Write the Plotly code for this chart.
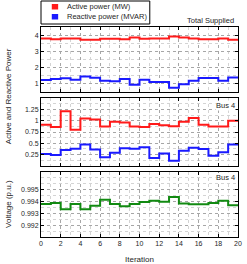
import plotly.graph_objects as go

# ---------------- data ----------------
iterations = list(range(21))
series_names = ["Active power (MW)", "Reactive power (MVAR)"]
total_active = [3.80, 3.74, 3.80, 3.80, 3.72, 3.72, 3.78, 3.78, 3.74, 3.86,
                3.78, 3.80, 3.80, 3.92, 3.86, 3.80, 3.74, 3.74, 3.80, 3.72]
total_reactive = [1.24, 1.30, 1.34, 1.26, 1.46, 1.38, 1.20, 1.16, 1.30, 0.94,
                  1.26, 1.12, 1.12, 0.76, 0.98, 1.20, 1.36, 1.36, 1.20, 1.40]
bus4_active = [0.91, 0.86, 1.21, 0.80, 1.05, 1.03, 0.87, 0.98, 0.96, 0.87,
               0.86, 0.93, 0.90, 0.88, 0.98, 1.06, 0.91, 0.87, 0.87, 1.00]
bus4_reactive = [0.26, 0.24, 0.35, 0.38, 0.47, 0.36, 0.19, 0.29, 0.39, 0.38,
                 0.41, 0.17, 0.27, 0.11, 0.33, 0.40, 0.37, 0.22, 0.30, 0.47]
bus4_voltage = [0.99378, 0.99386, 0.99333, 0.99378, 0.99333, 0.99364, 0.99414,
                0.99378, 0.99358, 0.99378, 0.99394, 0.99406, 0.99397, 0.99436,
                0.99383, 0.99375, 0.99375, 0.99386, 0.99406, 0.99367]
x_ticks = [0, 2, 4, 6, 8, 10, 12, 14, 16, 18, 20]

RED, BLUE, GREEN = "#ff1a1a", "#1a1aff", "#128a12"
FONT = "Liberation Sans, Arial, sans-serif"

W, H = 247, 264
ML, MR, MT, MB = 41, 5, 27, 27
PW, PH = W - ML - MR, H - MT - MB


def px(xp):
    return (xp - ML) / PW


def py(yp):
    return (H - MB - yp) / PH


def stairs(v):
    return v + [v[-1]]


fig = go.Figure()
fig.add_trace(go.Scatter(x=iterations, y=stairs(total_active), mode="lines",
                         line=dict(color=RED, width=2, shape="hv"),
                         xaxis="x", yaxis="y", name=series_names[0]))
fig.add_trace(go.Scatter(x=iterations, y=stairs(total_reactive), mode="lines",
                         line=dict(color=BLUE, width=2, shape="hv"),
                         xaxis="x", yaxis="y", name=series_names[1]))
fig.add_trace(go.Scatter(x=iterations, y=stairs(bus4_active), mode="lines",
                         line=dict(color=RED, width=2, shape="hv"),
                         xaxis="x2", yaxis="y2", name=series_names[0]))
fig.add_trace(go.Scatter(x=iterations, y=stairs(bus4_reactive), mode="lines",
                         line=dict(color=BLUE, width=2, shape="hv"),
                         xaxis="x2", yaxis="y2", name=series_names[1]))
fig.add_trace(go.Scatter(x=iterations, y=stairs(bus4_voltage), mode="lines",
                         line=dict(color=GREEN, width=2, shape="hv"),
                         xaxis="x3", yaxis="y3", name="Voltage"))

tickfont = dict(family=FONT, size=7, color="#262626")
common_ax = dict(showline=True, linecolor="black", linewidth=1, mirror="ticks",
                 ticks="inside", ticklen=3, tickcolor="black",
                 showgrid=True, gridcolor="#a6a6a6", griddash="dot", gridwidth=1,
                 zeroline=False, tickfont=tickfont)


def xax(anchor, labels):
    d = dict(common_ax)
    d.update(anchor=anchor, range=[0, 20], tickvals=x_ticks,
             showticklabels=labels, domain=[0, 1],
             minor=dict(dtick=1, showgrid=True, gridcolor="#d4d4d4",
                        griddash="dot", gridwidth=1))
    return d


def yax(anchor, dom, rng, tv, tt, mdt):
    d = dict(common_ax)
    d.update(anchor=anchor, domain=dom, range=rng, tickvals=tv, ticktext=tt,
             minor=dict(dtick=mdt, showgrid=True, gridcolor="#d4d4d4",
                        griddash="dot", gridwidth=1))
    return d


fig.update_layout(
    width=W, height=H,
    margin=dict(l=ML, r=MR, t=MT, b=MB),
    paper_bgcolor="white", plot_bgcolor="white",
    showlegend=False,
    xaxis=xax("y", False),
    xaxis2=xax("y2", False),
    xaxis3=xax("y3", True),
    yaxis=yax("x", [py(92), 1.0], [0.5, 4.5], [1, 2, 3, 4], ["1", "2", "3", "4"], 0.5),
    yaxis2=yax("x2", [py(165.7), py(98.3)], [0, 1.5],
               [0.25, 0.5, 0.75, 1, 1.25], ["0.25", "0.5", "0.75", "1", "1.25"], 0.125),
    yaxis3=yax("x3", [0, py(171.7)], [0.991, 0.9965],
               [0.992, 0.993, 0.994, 0.995], ["0.992", "0.993", "0.994", "0.995"], 0.0005),
)

annfont = dict(family=FONT, size=7.5, color="#262626")
anns = [
    dict(x=px(239), y=py(20.5), text="Total Supplied", xanchor="right", yanchor="middle"),
    dict(x=px(240), y=py(105), text="Bus 4", xanchor="right", yanchor="middle",
         bgcolor="white"),
    dict(x=px(240), y=py(177.3), text="Bus 4", xanchor="right", yanchor="middle",
         bgcolor="white"),
    dict(x=0.5, y=py(259), text="Iteration", xanchor="center", yanchor="middle",
         font=dict(family=FONT, size=8, color="#262626")),
    dict(x=px(8), y=py(96.5), text="Active and Reactive Power", textangle=-90,
         xanchor="center", yanchor="middle",
         font=dict(family=FONT, size=8, color="#262626")),
    dict(x=px(8), y=py(204.3), text="Voltage (p.u.)", textangle=-90,
         xanchor="center", yanchor="middle",
         font=dict(family=FONT, size=8, color="#262626")),
    dict(x=px(67), y=py(6.5), text=series_names[0], xanchor="left", yanchor="middle"),
    dict(x=px(67), y=py(16.7), text=series_names[1], xanchor="left", yanchor="middle"),
]
for a in anns:
    a.setdefault("font", annfont)
    a.update(xref="paper", yref="paper", showarrow=False, borderpad=0)
fig.update_layout(annotations=anns)

shapes = [
    dict(type="rect", x0=px(41), x1=px(152), y0=py(24), y1=py(1),
         line=dict(color="black", width=1), fillcolor="white"),
    dict(type="rect", x0=px(52), x1=px(58.5), y0=py(9.5), y1=py(4),
         line=dict(width=0), fillcolor=RED),
    dict(type="rect", x0=px(52), x1=px(58.5), y0=py(19.5), y1=py(14),
         line=dict(width=0), fillcolor=BLUE),
]
for s in shapes:
    s.update(xref="paper", yref="paper", layer="above")
fig.update_layout(shapes=shapes)

fig.write_html(
    "out.html",
    config={"displayModeBar": False},
    post_script="document.body.style.margin='0';document.body.style.overflow='hidden';",
)
